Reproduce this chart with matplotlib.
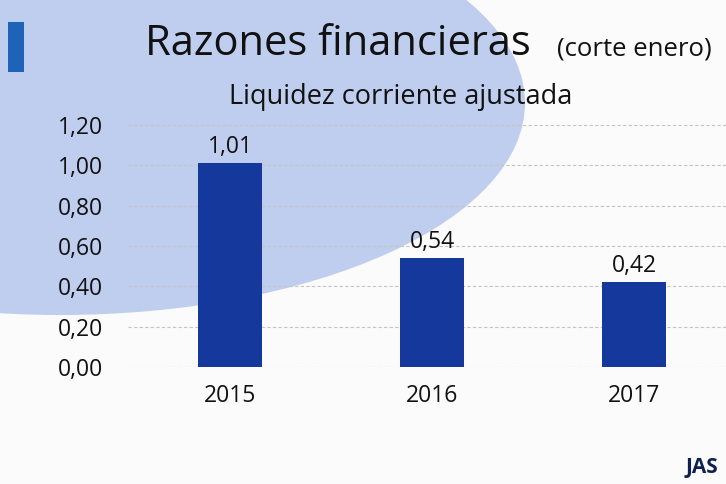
import matplotlib
matplotlib.use("Agg")
from matplotlib import pyplot as plt
from matplotlib.patches import Ellipse, Rectangle
import numpy as np

plt.rcParams['font.family'] = ['Open Sans', 'DejaVu Sans']

years = ["2015", "2016", "2017"]
liquidez = [1.01, 0.54, 0.42]
yticks = [0.0, 0.2, 0.4, 0.6, 0.8, 1.0, 1.2]

W, H = 726, 484
fig = plt.figure(figsize=(W / 100, H / 100), dpi=100)
fig.patch.set_facecolor("#fbfbfc")

# background decoration (slide shape), figure pixel coords from top-left
bg = fig.add_axes([0, 0, 1, 1], zorder=0)
bg.set_xlim(0, W)
bg.set_ylim(H, 0)
bg.axis("off")
bg.add_patch(Ellipse((60, 103), 2 * 465, 2 * 212, color="#bfcdee", lw=0))
bg.add_patch(Rectangle((8, 22), 16, 50, color="#1f63b8", lw=0))

ax = fig.add_axes([128 / W, 1 - 367 / H, (W - 128) / W, (367 - 125) / H], zorder=1)
ax.patch.set_alpha(0)
x = np.arange(len(years))
bars = ax.bar(x, liquidez, width=0.32, color="#14389c", zorder=3)
for xi, v in zip(x, liquidez):
    ax.annotate(f"{v:.2f}".replace(".", ","), (xi, v), xytext=(0, 3),
                textcoords="offset points", ha="center", va="bottom",
                fontsize=16.5, color="#111111")

ax.set_ylim(0, 1.2)
ax.set_xlim(-0.505, 2.455)
ax.set_yticks(yticks)
ax.set_yticklabels([f"{t:.2f}".replace(".", ",") for t in yticks])
ax.set_xticks(x)
ax.set_xticklabels(years)
ax.tick_params(axis="y", length=0, pad=18, labelsize=16.5, labelcolor="#111111")
ax.tick_params(axis="x", length=0, pad=12, labelsize=16.5, labelcolor="#111111")
for s in ax.spines.values():
    s.set_visible(False)
ax.yaxis.grid(True, color="#c4c4c4", ls=(0, (3, 2)), lw=0.8, zorder=0)

fig.text(145 / W, 1 - 55 / H, "Razones financieras", fontsize=30, fontweight="medium",
         color="#111111", ha="left", va="baseline")
fig.text(712 / W, 1 - 55 / H, "(corte enero)", fontsize=18.5, color="#111111",
         ha="right", va="baseline")
fig.text(401 / W, 1 - 97 / H, "Liquidez corriente ajustada", fontsize=19.5,
         color="#111111", ha="center", va="center")
fig.text(686 / W, 1 - 468 / H, "JAS", fontsize=15, fontweight="bold",
         color="#0d2050", ha="left", va="center")

fig.savefig("out.png", dpi=100, facecolor=fig.get_facecolor())
